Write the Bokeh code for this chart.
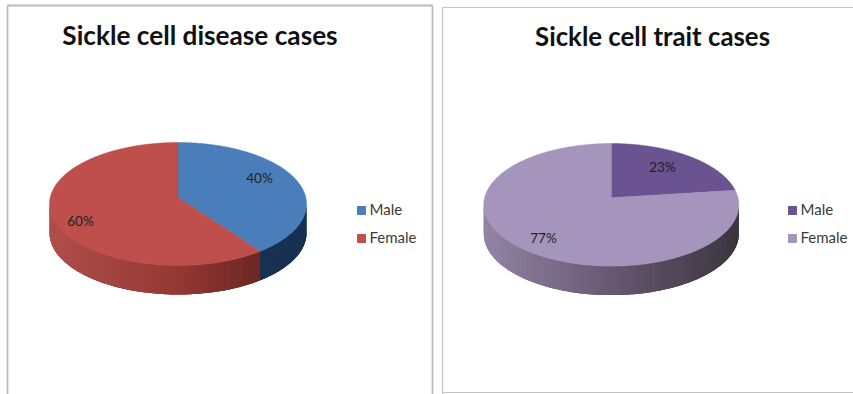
import numpy as np
from bokeh.core.properties import value
from bokeh.embed import file_html
from bokeh.models import Range1d
from bokeh.plotting import figure
from bokeh.resources import INLINE

# Share of cases by sex, in percent
categories = ["Male", "Female"]
disease_values = [40, 60]
trait_values = [23, 77]

disease_title = "Sickle cell disease cases"
trait_title = "Sickle cell trait cases"

disease_colors = ["#4A7EBB", "#BE4F4C"]
trait_colors = ["#6B5290", "#A594BC"]

# Wall shading, sampled left to right along the front of each disc
disease_shades = [
    [(30, 62, 102), (24, 48, 82), (24, 48, 82)],
    [(176, 78, 75), (148, 56, 52), (84, 30, 25)],
]
trait_shades = [
    [(60, 50, 80), (60, 50, 80), (60, 50, 80)],
    [(146, 132, 166), (104, 88, 112), (58, 54, 64)],
]

WIDTH, HEIGHT = 853, 394
DEPTH = 29

p = figure(
    width=WIDTH, height=HEIGHT, output_backend="svg", toolbar_location=None,
    x_range=Range1d(0, WIDTH), y_range=Range1d(HEIGHT, 0),
    min_border=0, outline_line_color=None, background_fill_color="white",
    border_fill_color="white",
)
p.xaxis.visible = False
p.yaxis.visible = False
p.grid.visible = False


def project(frac, cx, cy, rx, ry, skew):
    """Map a clockwise pie fraction to the tilted disc, with perspective."""
    theta = 2 * np.pi * np.asarray(frac, dtype=float)
    u, v = np.sin(theta), -np.cos(theta)
    denom = 1 - skew * v
    x = u * np.sqrt(1 - skew ** 2) / denom
    y = (v - skew) / denom
    return cx + rx * x, cy + ry * y


def to_hex(rgb):
    return "#%02x%02x%02x" % tuple(int(round(c)) for c in rgb)


def draw_pie(values, colors, shades, cx, cy, rx, ry, skew):
    total = sum(values)
    edges = np.cumsum([0] + list(values)) / total

    # Front wall: overlapping strips, each covered in part by the next one,
    # so the shading runs across it without seams
    fracs = np.linspace(0, 1, 361)
    px, py = project(fracs, cx, cy, rx, ry, skew)
    xs, ys, fills = [], [], []
    for i in range(len(fracs) - 1):
        if py[i] < cy and py[i + 1] < cy:
            continue
        j = min(i + 3, len(fracs) - 1)
        mid = (fracs[i] + fracs[i + 1]) / 2
        k = min(np.searchsorted(edges, mid) - 1, len(values) - 1)
        t = (px[i] + px[i + 1]) / 2
        t = (t - (cx - rx)) / (2 * rx)
        ramp = np.array(shades[k], dtype=float)
        pos = np.linspace(0, 1, len(ramp))
        rgb = [np.interp(t, pos, ramp[:, c]) for c in range(3)]
        seg_x = px[i:j + 1]
        seg_y = py[i:j + 1]
        xs.append(np.r_[seg_x, seg_x[::-1]])
        ys.append(np.r_[seg_y, seg_y[::-1] + DEPTH])
        fills.append(to_hex(rgb))
    p.patches(xs, ys, fill_color=fills, line_color=None)

    # Top face, one wedge per category
    ay = cy - ry * skew
    for k, color in enumerate(colors):
        arc = np.linspace(edges[k], edges[k + 1], 240)
        wx, wy = project(arc, cx, cy, rx, ry, skew)
        p.patch(np.r_[cx, wx], np.r_[ay, wy], fill_color=color, line_color=color, line_width=0.5)


def draw_labels(values, positions, color):
    for val, (x, y) in zip(values, positions):
        p.text([x], [y], text=[f"{val}%"], text_font=value("Lato"), text_font_size="13.5px",
               text_color=color, text_align="center", text_baseline="middle")


def draw_legend(colors, x, ys):
    for name, color, y in zip(categories, colors, ys):
        p.scatter([x + 4], [y], marker="square", size=8, fill_color=color, line_color=color)
        p.text([x + 12], [y - 1.5], text=[name], text_font=value("Lato"), text_font_size="15px",
               text_color="#3a3a3a", text_align="left", text_baseline="middle")


def draw_title(text, x, y, size):
    p.text([x], [y], text=[text], text_font=value("Lato"), text_font_style="bold",
           text_font_size=size, text_color="#111111", text_align="center",
           text_baseline="middle")


# Panel frames
p.line([7, 7, 432, 432], [394, 5, 5, 394], line_color="#bcbcbc", line_width=1.8)
p.line([442, 442, 853], [394, 7, 7], line_color="#c4c4c4", line_width=1.2)
p.line([442, 853], [392, 392], line_color="#c4c4c4", line_width=1.2)

# Sickle cell disease panel
draw_title(disease_title, 199.5, 34.5, "26.2px")
draw_pie(disease_values, disease_colors, disease_shades, 177.5, 203.5, 128.5, 61.5, 0.106)
draw_labels(disease_values, [(259, 177), (80, 220)], "#222222")
draw_legend(disease_colors, 357, [210, 238])

# Sickle cell trait panel
draw_title(trait_title, 652, 35.5, "25.8px")
draw_pie(trait_values, trait_colors, trait_shades, 610.8, 204.3, 127.5, 61.3, 0.114)
draw_labels(trait_values, [(662, 166), (543, 237)], "#222222")
draw_legend(trait_colors, 788, [210, 238])

open("out.html", "w").write(file_html(p, INLINE))
